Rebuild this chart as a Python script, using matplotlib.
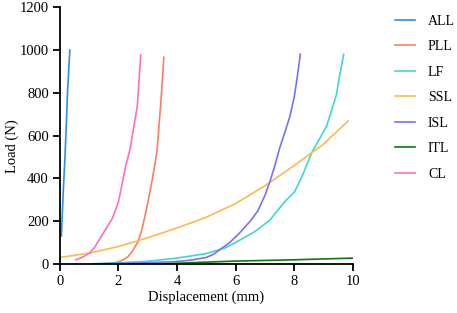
import matplotlib
matplotlib.use("Agg")
from matplotlib import pyplot as plt

plt.rcParams['font.family'] = ['Liberation Serif', 'DejaVu Serif']

# load-displacement curves
all_x = [0.05, 0.12, 0.17, 0.22, 0.26, 0.30, 0.34]
all_y = [130, 350, 486, 650, 800, 900, 1000]

pll_x = [1.48, 1.7, 1.85, 1.98, 2.1, 2.2, 2.33, 2.45, 2.55, 2.67, 2.8, 2.9, 3.0,
         3.13, 3.2, 3.27, 3.32, 3.38, 3.45, 3.5, 3.55]
pll_y = [0, 2, 5, 9, 15, 22, 34, 55, 76, 104, 160, 221, 285,
         377, 430, 486, 533, 640, 760, 860, 966]

lf_x = [1.1, 2.0, 3.0, 4.0, 5.0, 5.63, 6.0, 6.66, 7.17, 7.68, 8.02, 8.3, 8.59,
        9.1, 9.44, 9.55, 9.69]
lf_y = [0, 5, 12, 27, 48, 74, 100, 151, 205, 291, 338, 420, 518,
        642, 790, 880, 980]

ssl_x = [0.0, 1.0, 2.0, 3.0, 4.0, 5.0, 6.0, 7.0, 8.0, 9.0, 9.84]
ssl_y = [30, 50, 81, 122, 168, 218, 282, 365, 460, 560, 668]

isl_x = [1.1, 2.0, 3.0, 4.0, 4.5, 5.0, 5.25, 5.5, 5.8, 6.14, 6.5, 6.76, 7.0,
         7.17, 7.33, 7.5, 7.68, 7.85, 8.0, 8.1, 8.21]
isl_y = [0, 2, 5, 11, 18, 30, 45, 70, 100, 145, 200, 248, 320,
         385, 455, 540, 615, 688, 780, 870, 980]

itl_x = [3.6, 4.0, 5.0, 6.0, 7.0, 8.0, 9.0, 10.0]
itl_y = [0, 3, 8, 13, 16, 19, 23, 27]

cl_x = [0.55, 0.8, 1.02, 1.2, 1.42, 1.6, 1.8, 2.0, 2.13, 2.25, 2.39, 2.5, 2.64,
        2.7, 2.76]
cl_y = [19, 33, 51, 80, 130, 170, 215, 290, 377, 460, 533, 620, 735,
        850, 977]

series = [
    ("ALL", all_x, all_y, "#2a8fe8"),
    ("PLL", pll_x, pll_y, "#ff7f5c"),
    ("LF", lf_x, lf_y, "#3fd6d6"),
    ("SSL", ssl_x, ssl_y, "#ffb84d"),
    ("ISL", isl_x, isl_y, "#7474f5"),
    ("ITL", itl_x, itl_y, "#0b7a0b"),
    ("CL", cl_x, cl_y, "#ff6fbd"),
]

fig = plt.figure(figsize=(4.57, 3.13), dpi=100)
ax = fig.add_axes([0.131, 0.157, 0.641, 0.82])

for name, xs, ys, c in series:
    ax.plot(xs, ys, color=c, lw=1.2, label=name)

ax.set_xlim(0, 10)
ax.set_ylim(0, 1200)
ax.set_xticks([0, 2, 4, 6, 8, 10])
ax.set_yticks([0, 200, 400, 600, 800, 1000, 1200])
ax.spines['top'].set_visible(False)
ax.spines['right'].set_visible(False)
for s in ['left', 'bottom']:
    ax.spines[s].set_linewidth(1.3)
ax.tick_params(width=1.3, length=5, labelsize=10.5, pad=3)
ax.set_xlabel("Displacement (mm)", fontsize=10.5, labelpad=2)
ax.set_ylabel("Load (N)", fontsize=10.5)
ax.yaxis.set_label_coords(-0.14, 0.46)

ax.legend(loc='upper left', bbox_to_anchor=(1.10, 1.02), frameon=False,
          fontsize=10, handlelength=1.5, handletextpad=0.9, labelspacing=0.9)

plt.savefig("out.png", dpi=100)
